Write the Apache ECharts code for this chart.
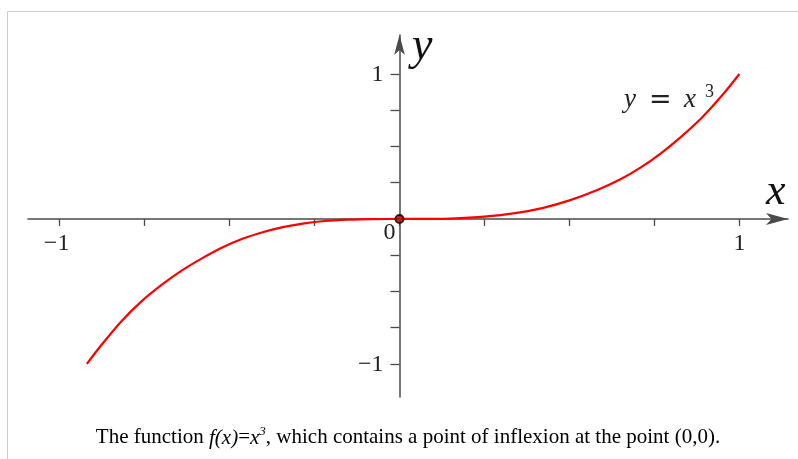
<!DOCTYPE html>
<html>
<head>
<meta charset="utf-8">
<script src="https://cdn.jsdelivr.net/npm/echarts@6/dist/echarts.min.js"></script>
<style>
  html, body { margin: 0; padding: 0; background: #fff; }
  #chart { width: 798px; height: 459px; }
</style>
</head>
<body>
<div id="chart"></div>
<script>
// points
const xVals = [-0.92, -0.88, -0.82, -0.76, -0.70, -0.64, -0.58, -0.52, -0.46, -0.40, -0.34, -0.28, -0.22, -0.15, -0.08, 0,
  0.08, 0.15, 0.25, 0.34, 0.42, 0.50, 0.58, 0.65, 0.71, 0.77, 0.83, 0.89, 0.95, 1.0];
const yVals = [-1.0, -0.878, -0.71, -0.57, -0.455, -0.355, -0.27, -0.195, -0.135, -0.09, -0.055, -0.03, -0.014, -0.005, -0.001, 0,
  0.0006, 0.003, 0.016, 0.04, 0.075, 0.128, 0.198, 0.274, 0.356, 0.455, 0.57, 0.70, 0.855, 1.0];
const xTicks = [-1, -0.75, -0.5, -0.25, 0, 0.25, 0.5, 0.75, 1];
const yTicks = [-1, -0.75, -0.5, -0.25, 0.25, 0.5, 0.75, 1];
const xLabels = [-1, 1];
const yLabels = [-1, 1];
const origin = [[0, 0]];

const curve = xVals.map(function (x, i) { return [x, yVals[i]]; });
const serif = '"Liberation Serif", "DejaVu Serif", serif';
const axisGray = '#4a4a4a';

function fmt(v) {
  return v < 0 ? '\u2212' + Math.abs(v) : String(v);
}

const myChart = echarts.init(document.getElementById('chart'));
myChart.setOption({
  animation: false,
  backgroundColor: '#fff',
  grid: { left: 28, right: 10, top: 35, bottom: 62, containLabel: false, outerBoundsMode: 'none' },
  xAxis: {
    type: 'value',
    min: -1.093,
    max: 1.143,
    splitLine: { show: false },
    axisLine: {
      onZero: true,
      symbol: ['none', 'arrow'],
      symbolSize: [9, 22],
      lineStyle: { color: axisGray, width: 1.5 }
    },
    axisTick: { customValues: xTicks, length: 7, lineStyle: { color: axisGray, width: 1.3 } },
    axisLabel: { show: false }
  },
  yAxis: {
    type: 'value',
    min: -1.228,
    max: 1.269,
    splitLine: { show: false },
    axisLine: {
      onZero: true,
      symbol: ['none', 'arrow'],
      symbolSize: [8, 20],
      lineStyle: { color: axisGray, width: 1.5 }
    },
    axisTick: { customValues: yTicks, length: 9, lineStyle: { color: axisGray, width: 1.3 } },
    axisLabel: { show: false }
  },
  series: [
    {
      type: 'line',
      data: curve,
      smooth: 0.3,
      showSymbol: false,
      lineStyle: { color: '#ff0000', width: 2.2 },
      z: 3
    },
    {
      type: 'scatter',
      data: origin,
      symbolSize: 8,
      itemStyle: { color: '#e00000', borderColor: '#000', borderWidth: 2 },
      z: 4
    }
  ]
});

// tick labels placed through the axes' own scales
const labelFont = '24px ' + serif;
const graphics = [
  // figure frame
  {
    type: 'rect',
    shape: { x: 7.5, y: 11.5, width: 800, height: 460 },
    style: { fill: 'none', stroke: '#cccccc', lineWidth: 1 },
    silent: true
  }
];
xLabels.forEach(function (v) {
  const p = myChart.convertToPixel({ gridIndex: 0 }, [v, 0]);
  graphics.push({ type: 'text', x: p[0] - (v < 0 ? 3 : 0), y: p[1] + 13,
    style: { text: fmt(v), font: labelFont, fill: '#222', align: 'center', verticalAlign: 'top' } });
});
yLabels.forEach(function (v) {
  const p = myChart.convertToPixel({ gridIndex: 0 }, [0, v]);
  graphics.push({ type: 'text', x: p[0] - 16, y: p[1] + 1,
    style: { text: fmt(v), font: labelFont, fill: '#222', align: 'right', verticalAlign: 'middle' } });
});
const o = myChart.convertToPixel({ gridIndex: 0 }, [0, 0]);
graphics.push({ type: 'text', x: o[0] - 4, y: o[1] + 2,
  style: { text: '0', font: labelFont, fill: '#222', align: 'right', verticalAlign: 'top' } });

// axis names and the equation
graphics.push(
  { type: 'text', x: 412, y: 24, style: { text: 'y', font: 'italic 46px ' + serif, fill: '#111' } },
  { type: 'text', x: 766, y: 170, style: { text: 'x', font: 'italic 44px ' + serif, fill: '#111' } },
  { type: 'text', x: 624, y: 86, style: { text: 'y', font: 'italic 27px ' + serif, fill: '#222' } },
  { type: 'text', x: 649, y: 87, style: { text: '=', font: '27px "DejaVu Serif", serif', fill: '#222' } },
  { type: 'text', x: 684, y: 86, style: { text: 'x', font: 'italic 27px ' + serif, fill: '#222' } },
  { type: 'text', x: 705, y: 83, style: { text: '3', font: '18px ' + serif, fill: '#222' } },
  {
    type: 'text',
    x: 408,
    y: 437,
    style: {
      text: 'The function {i|f(x)}={i|x}{sup|3}, which contains a point of inflexion at the point (0,0).',
      font: '21px ' + serif,
      fill: '#000',
      align: 'center',
      verticalAlign: 'middle',
      rich: {
        i: { fontStyle: 'italic', fontFamily: serif, fontSize: 21, verticalAlign: 'bottom' },
        sup: { fontStyle: 'italic', fontFamily: serif, fontSize: 13, verticalAlign: 'bottom', padding: [0, 0, 10, 0] }
      }
    }
  }
);
myChart.setOption({ graphic: graphics });
</script>
</body>
</html>
